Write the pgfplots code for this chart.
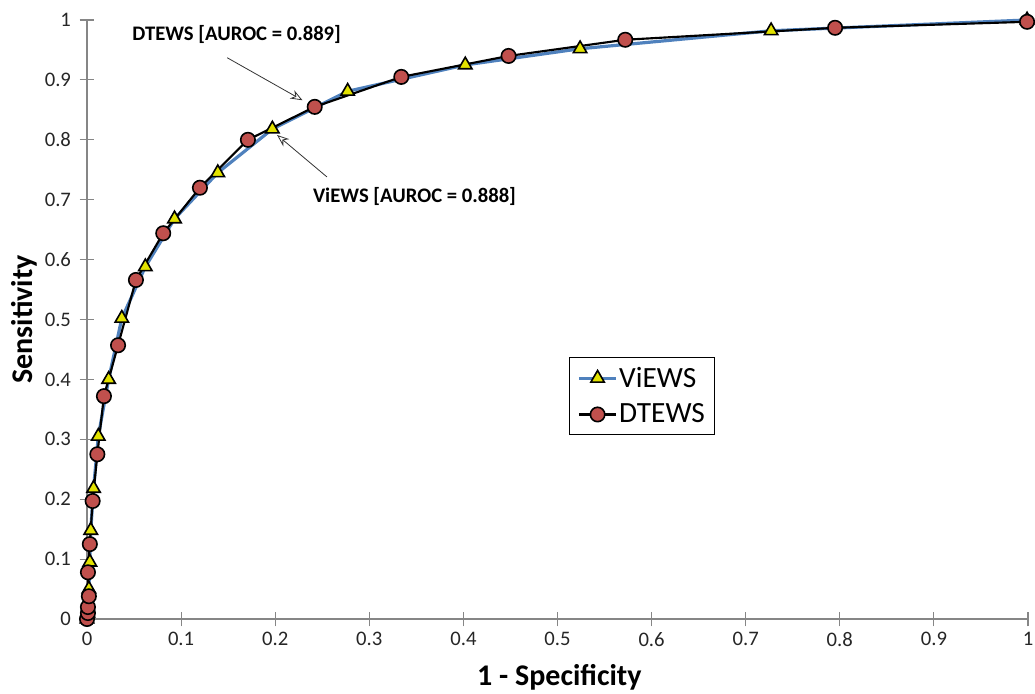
\documentclass[border=0pt]{standalone}
\usepackage{fontspec}
\setmainfont{Carlito}
\usepackage{pgfplots}
\pgfplotsset{compat=1.18}
\usetikzlibrary{arrows.meta}
\definecolor{viewsline}{HTML}{4F81BD}
\definecolor{viewsfill}{HTML}{E2E200}
\definecolor{dtewsfill}{HTML}{C0504D}
\definecolor{axisgray}{HTML}{868686}

\pgfplotstableread{
x y
0.000 0.000
0.001 0.010
0.002 0.050
0.003 0.095
0.004 0.148
0.007 0.218
0.012 0.305
0.023 0.400
0.037 0.502
0.062 0.588
0.093 0.668
0.139 0.745
0.197 0.818
0.277 0.881
0.402 0.925
0.524 0.952
0.727 0.982
0.999 1.000
}\views

\pgfplotstableread{
x y
0.000 0.000
0.001 0.010
0.001 0.020
0.002 0.038
0.001 0.078
0.003 0.125
0.006 0.197
0.011 0.275
0.018 0.372
0.033 0.457
0.052 0.566
0.081 0.644
0.120 0.720
0.171 0.800
0.242 0.855
0.334 0.905
0.448 0.940
0.572 0.967
0.795 0.987
0.999 0.997
}\dtews

\begin{document}
\begin{tikzpicture}
\begin{axis}[
  scale only axis,
  width=705.75pt, height=449.25pt,
  xmin=0, xmax=1, ymin=0, ymax=1,
  axis x line*=bottom, axis y line*=left,
  axis line style={axisgray, line width=0.8pt},
  every tick/.style={axisgray, line width=0.8pt},
  tick align=center,
  major tick length=11pt,
  xtick={0,0.1,...,1}, ytick={0,0.1,...,1},
  xticklabels={0,0.1,0.2,0.3,0.4,0.5,0.6,0.7,0.8,0.9,1},
  yticklabels={0,0.1,0.2,0.3,0.4,0.5,0.6,0.7,0.8,0.9,1},
  tick label style={font=\fontsize{15.5}{18}\selectfont, text=black!85},
  xticklabel style={yshift=-1pt},
  yticklabel style={xshift=-3pt},
  xlabel={\textbf{1 - Specificity}},
  ylabel={\textbf{Sensitivity}},
  label style={font=\fontsize{22.5}{26}\selectfont},
  xlabel style={at={(axis description cs:0.502,-0.0968)}, anchor=center},
  ylabel style={at={(axis description cs:-0.067,0.5)}, anchor=center},
  legend image code/.code={
    \draw[mark repeat=2, mark phase=2] plot coordinates {(0pt,0pt) (14pt,0pt) (28pt,0pt)};
  },
  legend style={at={(0.512,0.437)}, anchor=north west, draw=black, line width=0.8pt,
    font=\fontsize{22}{25}\selectfont, inner xsep=6pt, inner ysep=5pt, row sep=7pt,
    nodes={inner xsep=1pt}},
  legend cell align=left,
  clip=false,
]
\addplot[viewsline, line width=2.4pt, mark=triangle*, mark size=5.8pt,
  mark options={fill=viewsfill, draw=black, line width=1.2pt}] table {\views};
\addplot[black, line width=1.6pt, mark=*, mark size=5.4pt,
  mark options={fill=dtewsfill, draw=black, line width=1.2pt}] table {\dtews};
\legend{ViEWS\hspace{13pt}, DTEWS\hspace{13pt}}
\node[font=\fontsize{15.5}{18}\selectfont\bfseries] at (axis cs:0.159,0.975) {DTEWS [AUROC = 0.889]};
\node[font=\fontsize{15.5}{18}\selectfont\bfseries] at (axis cs:0.348,0.706) {ViEWS [AUROC = 0.888]};
\draw[black!80, line width=0.6pt, -{Stealth[open, length=9pt, width=7pt]}] (axis cs:0.149,0.937) -- (axis cs:0.229,0.866);
\draw[black!80, line width=0.6pt, -{Stealth[open, length=9pt, width=7pt]}] (axis cs:0.255,0.738) -- (axis cs:0.202,0.808);
\end{axis}
\pgfresetboundingbox
\path[use as bounding box] (-65.25pt,-55.5pt) rectangle (711pt,464.25pt);
\end{tikzpicture}
\end{document}
